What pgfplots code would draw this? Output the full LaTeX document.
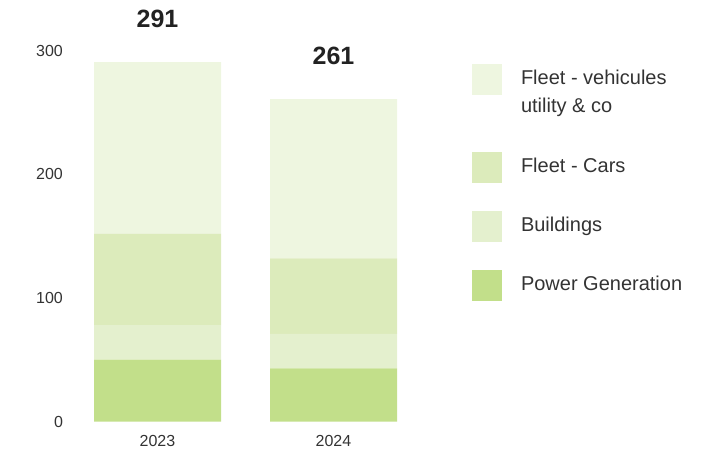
\documentclass[border=0pt]{standalone}
\usepackage{pgfplots}
\pgfplotsset{compat=1.18}
\usepackage{fontspec}
\setmainfont{Liberation Sans}
\definecolor{cfleetv}{HTML}{EEF6E0}
\definecolor{ccars}{HTML}{DCEBBB}
\definecolor{cbuild}{HTML}{E4F0CE}
\definecolor{cpower}{HTML}{C2DF8A}
\definecolor{txt}{HTML}{333333}
\definecolor{txtb}{HTML}{222222}
\pgfplotsset{
  sqleg/.style={legend image code/.code={\fill[##1] (0pt,-11pt) rectangle (30pt,20pt);}},
  topsq/.style={legend image code/.code={\fill[##1] (0pt,17pt) rectangle (30pt,48pt);\path (0pt,-12pt);}},
}
\begin{document}
\begin{tikzpicture}
\path[use as bounding box] (0,0) rectangle (714pt,453pt);
\begin{axis}[
  at={(87.1pt,31.5pt)}, anchor=south west,
  scale only axis, width=316.8pt, height=370.6pt,
  ybar stacked, bar width=127pt,
  xmin=-0.4, xmax=1.4, ymin=0, ymax=300,
  xtick={0,1}, xticklabels={2023,2024},
  ytick={0,100,200,300},
  axis line style={draw=none},
  major tick length=0pt,
  tick style={draw=none},
  /pgf/number format/assume math mode=true,
  xticklabel style={font=\fontsize{16}{19}\selectfont, text=txt, inner sep=0pt, anchor=north, yshift=-13.5pt},
  yticklabel style={font=\fontsize{16}{19}\selectfont, text=txt, inner sep=0pt, anchor=east, xshift=-24pt},
  clip=false,
  reverse legend,
  legend cell align=left,
  sqleg,
  legend style={draw=none, fill=none, inner sep=0pt, outer sep=0pt,
    at={(1.215,0.9644)}, anchor=north west,
    row sep=28pt, column sep=19pt,
    cells={anchor=base west},
    nodes={inner sep=0pt, outer sep=0pt, font=\fontsize{20}{28}\selectfont, text=txt, align=left}},
]
\addplot[fill=cpower, draw=none] coordinates {(0,50) (1,43)};
\addlegendentry{Power Generation}
\addplot[fill=cbuild, draw=none] coordinates {(0,28) (1,28)};
\addlegendentry{Buildings}
\addplot[fill=ccars, draw=none] coordinates {(0,74) (1,61)};
\addlegendentry{Fleet - Cars}
\addplot[fill=cfleetv, draw=none, topsq] coordinates {(0,139) (1,129)};
\addlegendentry{Fleet - vehicules\\utility \& co}
\addplot[fill=white, fill opacity=0, draw=none, forget plot, nodes near coords, point meta=explicit symbolic,
  every node near coord/.append style={font=\fontsize{25}{30}\selectfont\bfseries, text=txtb, text opacity=1, inner sep=0pt, anchor=south, yshift=34pt}]
  coordinates {(0,0.01)[291] (1,0.01)[261]};
\end{axis}
\end{tikzpicture}
\end{document}
